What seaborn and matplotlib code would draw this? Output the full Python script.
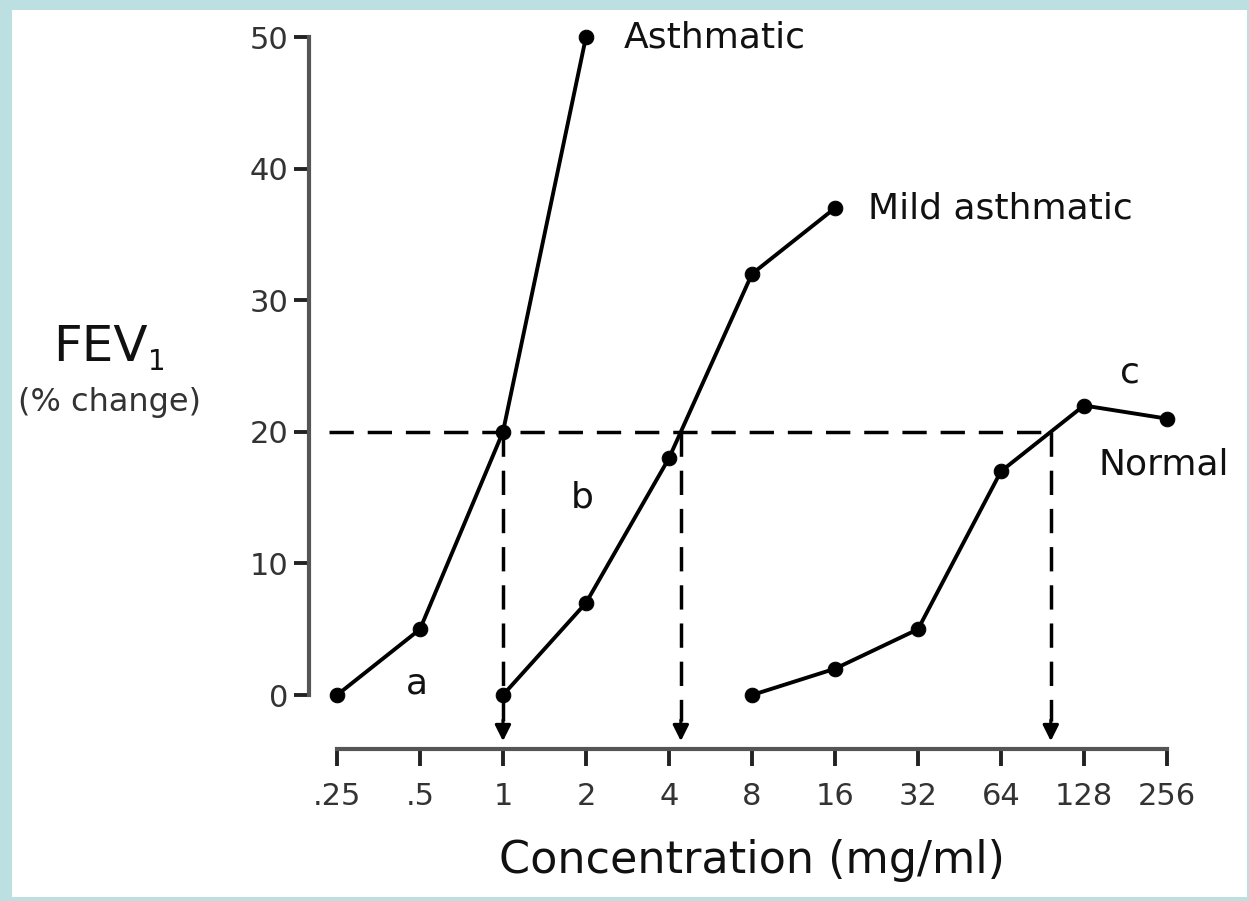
import numpy as np
import pandas as pd
import matplotlib
matplotlib.use("Agg")
import matplotlib.pyplot as plt
import seaborn as sns
from matplotlib.patches import Rectangle

# =========================
# Data
# =========================

conc_ticks = [0.25, 0.5, 1, 2, 4, 8, 16, 32, 64, 128, 256]
conc_labels = [".25", ".5", "1", "2", "4", "8", "16", "32", "64", "128", "256"]

asthmatic_conc = [0.25, 0.5, 1, 2]
asthmatic_fev = [0, 5, 20, 50]

mild_conc = [1, 2, 4, 8, 16]
mild_fev = [0, 7, 18, 32, 37]

normal_conc = [8, 16, 32, 64, 128, 256]
normal_fev = [0, 2, 5, 17, 22, 21]

threshold = 20

df = pd.concat([
    pd.DataFrame({"conc": asthmatic_conc, "fev": asthmatic_fev, "group": "Asthmatic"}),
    pd.DataFrame({"conc": mild_conc, "fev": mild_fev, "group": "Mild asthmatic"}),
    pd.DataFrame({"conc": normal_conc, "fev": normal_fev, "group": "Normal"}),
])


def pd20(conc, fev):
    # concentration where the curve crosses 20 %, interpolated on log2 scale
    return 2 ** np.interp(threshold, fev, np.log2(conc))


pd20_values = [pd20(asthmatic_conc, asthmatic_fev),
               pd20(mild_conc, mild_fev),
               pd20(normal_conc, normal_fev)]

# =========================
# Figure
# =========================

sns.set_style("ticks")
plt.rcParams["font.family"] = ["DejaVu Sans"]

fig = plt.figure(figsize=(12.49, 9.01), dpi=100)
fig.patch.set_facecolor("#bcdfe2")
fig.patches.append(Rectangle((12 / 1249, 4 / 901), 1235 / 1249, 887 / 901,
                             transform=fig.transFigure, facecolor="white",
                             edgecolor="none", zorder=-10))

ax = fig.add_axes([309 / 1249, 1 - 749 / 901, 858 / 1249, 712 / 901])
ax.set_facecolor("none")
ax.set_xscale("log", base=2)

for name, sub in df.groupby("group"):
    sns.lineplot(data=sub, x="conc", y="fev", ax=ax, color="black",
                 marker="o", markersize=10.5, markeredgecolor="black",
                 linewidth=2.8, clip_on=False, zorder=3)

# dashed 20 % line and drop lines with arrows
dash = (0, (7, 4))
ax.plot([2 ** -2.1, pd20_values[-1]], [threshold, threshold], color="black",
        linestyle=dash, linewidth=2.5, zorder=2)
for x in pd20_values:
    ax.plot([x, x], [threshold, -2.0], color="black", linestyle=dash,
            linewidth=2.5, zorder=2)
    ax.annotate("", xy=(x, -3.5), xytext=(x, -1.9),
                arrowprops=dict(arrowstyle="-|>", color="black", lw=2.2,
                                mutation_scale=24, shrinkA=0, shrinkB=0),
                annotation_clip=False)

# curve labels
lab_kw = dict(fontsize=26, color="#111111", va="center")
ax.text(2 ** 1.45, 50, "Asthmatic", ha="left", clip_on=False, **lab_kw)
ax.text(2 ** 4.40, 37, "Mild asthmatic", ha="left", **lab_kw)
ax.text(2 ** 7.17, 17.5, "Normal", ha="left", clip_on=False, **lab_kw)
ax.text(2 ** -1.04, 0.9, "a", ha="center", **lab_kw)
ax.text(2 ** 0.95, 15, "b", ha="center", **lab_kw)
ax.text(2 ** 7.55, 24.5, "c", ha="center", **lab_kw)

# axes
ax.set_xlim(2 ** -2.337, 256)
ax.set_ylim(-4.1, 50)
ax.set_xticks(conc_ticks)
ax.set_xticklabels(conc_labels)
ax.xaxis.set_minor_locator(matplotlib.ticker.NullLocator())
ax.set_yticks([0, 10, 20, 30, 40, 50])

sns.despine(ax=ax)
ax.spines["left"].set_bounds(0, 50)
ax.spines["bottom"].set_bounds(0.25, 256)
for s in ["left", "bottom"]:
    ax.spines[s].set_linewidth(3)
    ax.spines[s].set_color("#555555")

ax.tick_params(axis="x", direction="out", length=12, width=2.8,
               color="#222222", labelsize=22, labelcolor="#333333", pad=12)
ax.tick_params(axis="y", direction="out", length=11, width=2.8,
               color="#222222", labelsize=22, labelcolor="#333333", pad=4)

ax.set_xlabel("Concentration (mg/ml)", fontsize=32, color="#111111", va="center")
ax.xaxis.set_label_coords((752 - 309) / 858, (749 - 860) / 712)
ax.set_ylabel("")

fig.text(100 / 1249, 1 - 347 / 901, "FEV", fontsize=36,
         color="#111111", ha="center", va="center")
fig.text(157 / 1249, 1 - 362 / 901, "1", fontsize=20,
         color="#111111", ha="center", va="center")
fig.text(109 / 1249, 1 - 402 / 901, "(% change)", fontsize=23, color="#333333",
         ha="center", va="center")

fig.savefig("out.png", dpi=100, facecolor=fig.get_facecolor())
